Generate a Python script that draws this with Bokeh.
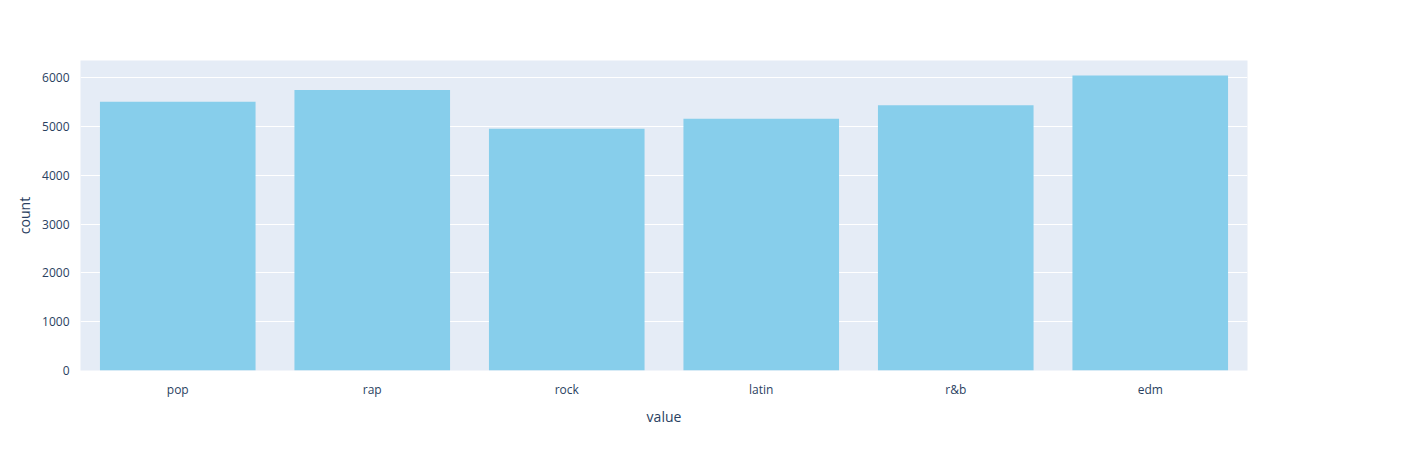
from bokeh.plotting import figure
from bokeh.models import ColumnDataSource, Legend, LegendItem, Range1d, FactorRange
from bokeh.embed import file_html
from bokeh.resources import INLINE

genres = ["pop", "rap", "rock", "latin", "r&b", "edm"]
counts = [5507, 5746, 4951, 5155, 5431, 6043]

source = ColumnDataSource(data=dict(genre=genres, count=counts))

p = figure(x_range=FactorRange(*genres, range_padding=0), y_range=Range1d(0, 6350),
           width=1396, height=434, output_backend="svg", toolbar_location=None,
           min_border_left=80, min_border_top=60, min_border_bottom=64, min_border_right=149)

r = p.vbar(x="genre", top="count", width=0.8, source=source, color="#87CEEB", line_color=None)

p.background_fill_color = "#E5ECF6"
p.outline_line_color = None
p.xgrid.grid_line_color = None
p.ygrid.grid_line_color = "white"
p.ygrid.grid_line_width = 1

p.xaxis.axis_label = "value"
p.yaxis.axis_label = "count"
for ax in (p.xaxis, p.yaxis):
    ax.axis_line_color = None
    ax.major_tick_line_color = None
    ax.minor_tick_line_color = None
    ax.major_label_text_font = "Open Sans"
    ax.major_label_text_font_size = "12px"
    ax.major_label_text_color = "#2a3f5f"
    ax.axis_label_text_font = "Open Sans"
    ax.axis_label_text_font_size = "14px"
    ax.axis_label_text_font_style = "normal"
    ax.axis_label_text_color = "#2a3f5f"
p.xaxis.major_label_standoff = 4
p.xaxis.axis_label_standoff = 6
p.yaxis.ticker = [0, 1000, 2000, 3000, 4000, 5000, 6000]

legend = Legend(items=[LegendItem(label="playlist_genre", renderers=[r])], title="variable",
                location=(1172, 318))
legend.title_text_font = "Open Sans"
legend.title_text_font_size = "14px"
legend.title_text_font_style = "normal"
legend.title_text_color = "#2a3f5f"
legend.label_text_font = "Open Sans"
legend.label_text_font_size = "12px"
legend.label_text_color = "#2a3f5f"
legend.border_line_color = None
legend.background_fill_alpha = 0
legend.glyph_width = 14
legend.glyph_height = 14
legend.margin = 0
legend.padding = 8
legend.title_standoff = 4
legend.label_standoff = 12
legend.spacing = 0
p.add_layout(legend)

open("out.html", "w").write(file_html(p, INLINE))
